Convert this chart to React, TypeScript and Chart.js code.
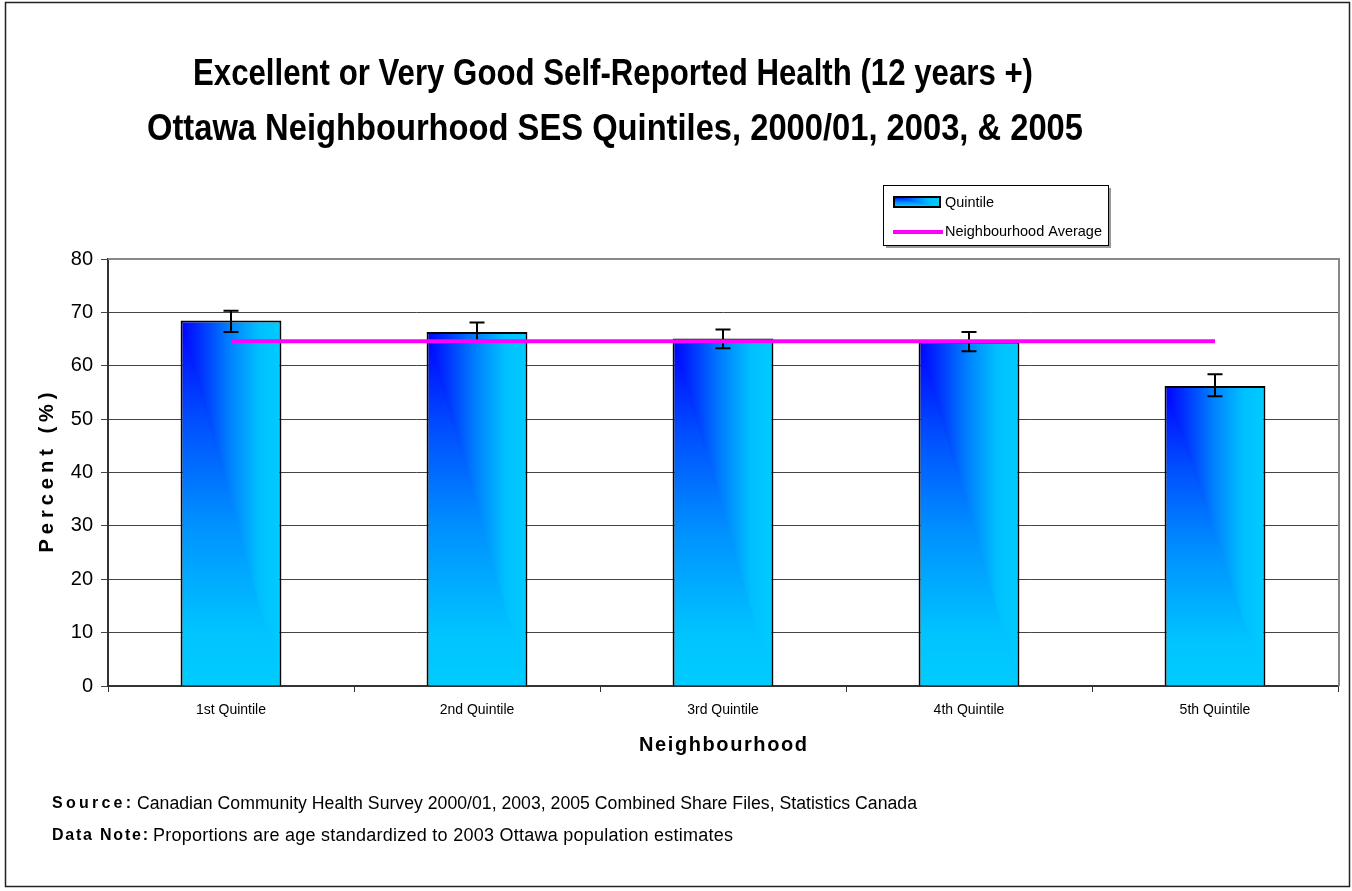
import React, { useEffect, useRef } from "react";
import { Chart, registerables } from "chart.js";

Chart.register(...registerables);

const categories = ["1st Quintile", "2nd Quintile", "3rd Quintile", "4th Quintile", "5th Quintile"];
const quintileValues = [68.5, 66.3, 65.1, 64.5, 56.2];
const ciLower = [66.3, 64.5, 63.3, 62.7, 54.3];
const ciUpper = [70.3, 68.1, 66.8, 66.3, 58.4];
const neighbourhoodAverage = [64.6, 64.6, 64.6, 64.6, 64.6];
const yMin = 0;
const yMax = 80;
const yStep = 10;
const titleLines = [
  "Excellent or Very Good Self-Reported Health (12 years +)",
  "Ottawa Neighbourhood SES Quintiles, 2000/01, 2003, & 2005",
];
const xAxisTitle = "Neighbourhood";
const yAxisTitle = "Percent (%)";
const legendLabels = ["Quintile", "Neighbourhood Average"];
const footnoteHeads = ["Source:", "Data Note:"];
const footnoteTexts = [
  "Canadian Community Health Survey 2000/01, 2003, 2005 Combined Share Files, Statistics Canada",
  "Proportions are age standardized to 2003 Ottawa population estimates",
];

const FONT = '"Liberation Sans", Arial, sans-serif';
const BAR_PCT = 0.41;

function fitText(
  ctx: CanvasRenderingContext2D,
  text: string,
  x: number,
  y: number,
  font: string,
  target: number,
  align: "left" | "center" | "right" = "left"
) {
  ctx.save();
  ctx.font = font;
  ctx.fillStyle = "#000";
  ctx.textBaseline = "middle";
  ctx.textAlign = "left";
  const natural = ctx.measureText(text).width;
  const startX = align === "center" ? x - target / 2 : align === "right" ? x - target : x;
  if (natural > target) {
    ctx.translate(startX, y);
    ctx.scale(target / natural, 1);
    ctx.fillText(text, 0, 0);
  } else {
    const n = Array.from(text).length;
    (ctx as any).letterSpacing = `${(target - natural) / Math.max(1, n - 1)}px`;
    ctx.fillText(text, startX, y);
  }
  ctx.restore();
}

const H_STOPS: [number, string][] = [
  [0, "#0000ff"],
  [0.25, "#0040ff"],
  [0.5, "#0084ff"],
  [0.78, "#00c0ff"],
  [1, "#00ccff"],
];
const V_STOPS: [number, string][] = [
  [0, "#0000ff"],
  [0.28, "#0050ff"],
  [0.55, "#0090ff"],
  [0.85, "#00c4ff"],
  [1, "#00ccff"],
];

// "From corner" gradient: colour depends on max(x/w, y/h) measured from the top-left corner
function cornerFill(ctx: CanvasRenderingContext2D, left: number, top: number, w: number, h: number) {
  const W = Math.max(1, Math.ceil(w));
  const H = Math.max(1, Math.ceil(h));
  const off = document.createElement("canvas");
  off.width = W;
  off.height = H;
  const o = off.getContext("2d") as CanvasRenderingContext2D;
  const vg = o.createLinearGradient(0, 0, 0, H);
  V_STOPS.forEach(([s, c]) => vg.addColorStop(s, c));
  o.fillStyle = vg;
  o.fillRect(0, 0, W, H);
  const hg = o.createLinearGradient(0, 0, W, 0);
  H_STOPS.forEach(([s, c]) => hg.addColorStop(s, c));
  o.fillStyle = hg;
  o.beginPath();
  o.moveTo(0, 0);
  o.lineTo(W, 0);
  o.lineTo(W, H);
  o.closePath();
  o.fill();
  const p = ctx.createPattern(off, "no-repeat") as CanvasPattern;
  p.setTransform(new DOMMatrix([1, 0, 0, 1, left, top]));
  return p;
}

const framePlugin = {
  id: "frame",
  beforeDraw(chart: any) {
    const ctx = chart.ctx as CanvasRenderingContext2D;
    ctx.save();
    ctx.fillStyle = "#fff";
    ctx.fillRect(0, 0, chart.width, chart.height);
    ctx.strokeStyle = "#222";
    ctx.lineWidth = 1.5;
    ctx.strokeRect(5.5, 2.5, 1344, 884);
    ctx.restore();
  },
  beforeDatasetsDraw(chart: any) {
    const ctx = chart.ctx as CanvasRenderingContext2D;
    const a = chart.chartArea;
    ctx.save();
    ctx.strokeStyle = "#888";
    ctx.lineWidth = 2;
    ctx.beginPath();
    ctx.moveTo(a.left, a.top);
    ctx.lineTo(a.right + 1, a.top);
    ctx.lineTo(a.right + 1, a.bottom);
    ctx.stroke();
    ctx.restore();
  },
};

const errorBarPlugin = {
  id: "errorBars",
  afterDatasetDraw(chart: any, args: any) {
    if (args.index !== 0) return;
    const ctx = chart.ctx as CanvasRenderingContext2D;
    const ys = chart.scales.y;
    const meta = chart.getDatasetMeta(0);
    ctx.save();
    ctx.strokeStyle = "#000";
    ctx.lineWidth = 2;
    meta.data.forEach((el: any, i: number) => {
      const x = el.x;
      const hi = ys.getPixelForValue(ciUpper[i]);
      const lo = ys.getPixelForValue(ciLower[i]);
      ctx.beginPath();
      ctx.moveTo(x, hi);
      ctx.lineTo(x, lo);
      ctx.moveTo(x - 7.5, hi);
      ctx.lineTo(x + 7.5, hi);
      ctx.moveTo(x - 7.5, lo);
      ctx.lineTo(x + 7.5, lo);
      ctx.stroke();
    });
    ctx.restore();
  },
};

const textPlugin = {
  id: "texts",
  afterDraw(chart: any) {
    const ctx = chart.ctx as CanvasRenderingContext2D;
    const a = chart.chartArea;
    // Titles
    fitText(ctx, titleLines[0], 613, 75, `bold 36px ${FONT}`, 840, "center");
    fitText(ctx, titleLines[1], 615, 130, `bold 36px ${FONT}`, 936, "center");
    // Axis titles
    fitText(ctx, xAxisTitle, (a.left + a.right) / 2, 745, `bold 20px ${FONT}`, 168, "center");
    ctx.save();
    ctx.translate(47, (a.top + a.bottom) / 2);
    ctx.rotate(-Math.PI / 2);
    fitText(ctx, yAxisTitle, 0, 0, `bold 20px ${FONT}`, 160, "center");
    ctx.restore();
    // Footnotes
    fitText(ctx, footnoteHeads[0], 52, 804, `bold 16px ${FONT}`, 79, "left");
    fitText(ctx, footnoteTexts[0], 137, 804, `18px ${FONT}`, 780, "left");
    fitText(ctx, footnoteHeads[1], 52, 836, `bold 16px ${FONT}`, 96, "left");
    fitText(ctx, footnoteTexts[1], 153, 836, `18px ${FONT}`, 580, "left");
    // Legend
    const lx = 883, ly = 185, lw = 225, lh = 60;
    ctx.save();
    ctx.fillStyle = "#9a9a9a";
    ctx.fillRect(lx + 3, ly + 3, lw, lh);
    ctx.fillStyle = "#fff";
    ctx.fillRect(lx, ly, lw, lh);
    ctx.strokeStyle = "#000";
    ctx.lineWidth = 1;
    ctx.strokeRect(lx + 0.5, ly + 0.5, lw, lh);
    ctx.fillStyle = cornerFill(ctx, 894, 197, 46, 10);
    ctx.fillRect(894, 197, 46, 10);
    ctx.lineWidth = 2;
    ctx.strokeRect(894, 197, 46, 10);
    ctx.strokeStyle = "#ff00ff";
    ctx.lineWidth = 4;
    ctx.beginPath();
    ctx.moveTo(893, 232);
    ctx.lineTo(943, 232);
    ctx.stroke();
    ctx.restore();
    fitText(ctx, legendLabels[0], 945, 203, `15px ${FONT}`, 49, "left");
    fitText(ctx, legendLabels[1], 945, 232, `15px ${FONT}`, 157, "left");
  },
};

export default function App() {
  const canvasRef = useRef<HTMLCanvasElement | null>(null);

  useEffect(() => {
    const canvas = canvasRef.current;
    if (!canvas) return;
    const chart = new Chart(canvas, {
      type: "bar",
      data: {
        labels: categories,
        datasets: [
          {
            type: "bar",
            label: legendLabels[0],
            data: quintileValues,
            order: 1,
            barPercentage: BAR_PCT,
            categoryPercentage: 1,
            borderColor: "#000",
            borderWidth: 2,
            backgroundColor: (c: any) => {
              const ch = c.chart;
              if (!ch.chartArea || c.type !== "data") return "#00ccff";
              const xs = ch.scales.x;
              const ys = ch.scales.y;
              const cx = xs.getPixelForValue(c.dataIndex);
              const w = (xs.width / categories.length) * BAR_PCT;
              const top = ys.getPixelForValue(c.raw as number);
              const bottom = ys.getPixelForValue(0);
              return cornerFill(ch.ctx, cx - w / 2, top, w, bottom - top);
            },
          } as any,
          {
            type: "line",
            label: legendLabels[1],
            data: neighbourhoodAverage,
            order: 0,
            borderColor: "#ff00ff",
            borderWidth: 4,
            pointRadius: 0,
            tension: 0,
            fill: false,
          } as any,
        ],
      },
      options: {
        responsive: false,
        animation: false,
        layout: { padding: { top: 259, left: 0, right: 14, bottom: 125 } },
        plugins: {
          legend: { display: false },
          title: { display: false },
          tooltip: { enabled: false },
        },
        scales: {
          x: {
            grid: {
              offset: true,
              drawOnChartArea: false,
              drawTicks: true,
              tickLength: 6,
              color: "#333",
              lineWidth: 1,
            },
            border: { color: "#333", width: 2 },
            ticks: { font: { family: FONT, size: 14 }, color: "#000", padding: 10, maxRotation: 0 },
            afterFit: (s: any) => {
              s.height = 80;
            },
          } as any,
          y: {
            min: yMin,
            max: yMax,
            ticks: { stepSize: yStep, font: { family: FONT, size: 20 }, color: "#000", padding: 8 },
            grid: { color: "#444", lineWidth: 1, tickLength: 7, drawTicks: true },
            border: { color: "#333", width: 2 },
            afterFit: (s: any) => {
              s.width = 108;
            },
          } as any,
        },
      },
      plugins: [framePlugin, errorBarPlugin, textPlugin],
    });
    return () => chart.destroy();
  }, []);

  return (
    <div style={{ position: "fixed", left: 0, top: 0, width: 1352, height: 891, background: "#fff" }}>
      <canvas ref={canvasRef} width={1352} height={891} style={{ display: "block" }} />
    </div>
  );
}
